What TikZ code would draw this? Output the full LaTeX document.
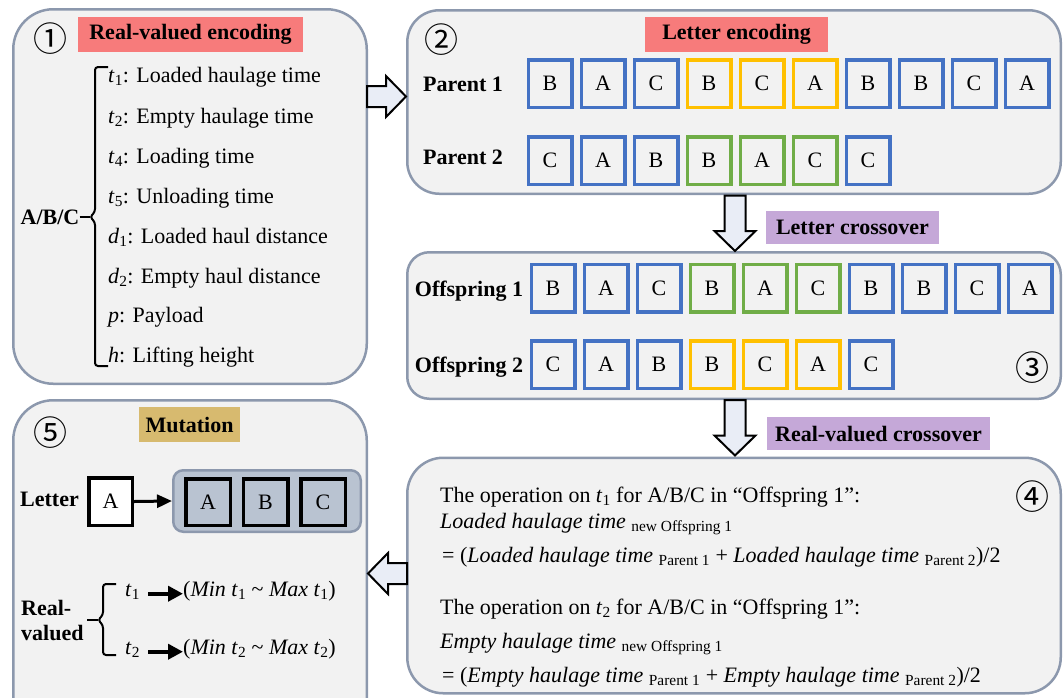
\documentclass[tikz,border=0pt]{standalone}
\usepackage{fontspec}
\setmainfont{Liberation Serif}
\newfontfamily\cjkfont{Noto Sans CJK SC}
\usetikzlibrary{arrows.meta,calc}
\definecolor{panelfill}{HTML}{F2F2F2}
\definecolor{panelline}{HTML}{8C98AD}
\definecolor{cblue}{HTML}{4472C4}
\definecolor{corange}{HTML}{FFC000}
\definecolor{cgreen}{HTML}{70AD47}
\definecolor{lred}{HTML}{F77B7B}
\definecolor{lpurple}{HTML}{C5A8D8}
\definecolor{ltan}{HTML}{D7BA6F}
\definecolor{arrowfill}{HTML}{E9EDF6}
\definecolor{groupfill}{HTML}{B9C3D1}
\newcommand\fsz[1]{\fontsize{#1}{#1}\selectfont}
\newcommand\sbs[1]{\textsubscript{#1}}
\tikzset{
  panel/.style={draw=panelline, fill=panelfill, line width=2.5pt, rounded corners=#1, inner sep=0pt},
  cell/.style={draw=#1, line width=3.5pt, minimum width=43.5pt, minimum height=47.5pt, inner sep=0pt, font=\fsz{22}},
  tag/.style={fill=#1, inner sep=0pt, font=\bfseries\fsz{22}},
  txt/.style={inner sep=0pt, font=\fsz{22}},
  btxt/.style={inner sep=0pt, font=\bfseries\fsz{22}},
  num/.style={inner sep=0pt, font=\cjkfont\fsz{34}},
  barrow/.style={draw=black, fill=arrowfill, line width=2pt, line join=miter},
  bracestyle/.style={draw=black, line width=2pt, rounded corners=3pt},
  blockarr/.pic={\draw[barrow] (0,-10.5) -- (#1-20,-10.5) -- (#1-20,-20.5) -- (#1,0) -- (#1-20,20.5) -- (#1-20,10.5) -- (0,10.5) -- cycle;},
  mutarrow/.style={draw=black, line width=4pt, -{Triangle[length=15pt,width=15pt]}},
  letarrow/.style={draw=black, line width=3pt, -{Triangle[length=15pt,width=13pt]}}
}
\begin{document}
\begin{tikzpicture}[x=1pt,y=-1pt]
\useasboundingbox (0,0) rectangle (1063,697);
\clip (0,0) rectangle (1063,697);
% panels
\node[panel=40pt, minimum width=353.5pt, minimum height=374.5pt] (p1) at (190,196.5) {};
\node[panel=32pt, minimum width=653.5pt, minimum height=183.5pt] (p2) at (734,102) {};
\node[panel=22pt, minimum width=653.5pt, minimum height=146.5pt] (p3) at (734,325.5) {};
\node[panel=36pt, minimum width=653.5pt, minimum height=235.5pt] (p4) at (734,575.5) {};
\node[panel=40pt, minimum width=353.5pt, minimum height=338.5pt] (p5) at (190,569.5) {};

% panel 1
\node[num] (n1) at (50.5,39) {①};
\node[tag=lred, minimum width=225pt, minimum height=35pt] (l1) at (190.5,34.5) {Real-valued encoding};
\node[btxt] (abc) at (50,217) {A/B/C};
\draw[bracestyle] (108,67) -- (95,67) -- (95,212) -- (90,217) -- (95,222) -- (95,366) -- (108,366);
\draw[line width=2pt] (abc.east) -- (90,217);
\node[txt, anchor=base west] (i1) at (108,82) {\textit{t}\sbs{1}: Loaded haulage time};
\node[txt, anchor=base west] (i2) at (108,123) {\textit{t}\sbs{2}: Empty haulage time};
\node[txt, anchor=base west] (i3) at (108,163) {\textit{t}\sbs{4}: Loading time};
\node[txt, anchor=base west] (i4) at (108,203) {\textit{t}\sbs{5}: Unloading time};
\node[txt, anchor=base west] (i5) at (108,243) {\textit{d}\sbs{1}: Loaded haul distance};
\node[txt, anchor=base west] (i6) at (108,283) {\textit{d}\sbs{2}: Empty haul distance};
\node[txt, anchor=base west] (i7) at (108,322) {\textit{p}: Payload};
\node[txt, anchor=base west] (i8) at (108,362) {\textit{h}: Lifting height};

% panel 2
\node[num] (n2) at (441,40) {②};
\node[tag=lred, minimum width=183pt, minimum height=35pt] (l2) at (736.5,34.5) {Letter encoding};
\node[btxt, anchor=base] (par1) at (463,91) {Parent 1};
\node[btxt, anchor=base] (par2) at (463,164) {Parent 2};
\foreach \l/\c [count=\i] in {B/cblue,A/cblue,C/cblue,B/corange,C/corange,A/corange,B/cblue,B/cblue,C/cblue,A/cblue}
  \node[cell=\c] (pa\i) at ({550+53*(\i-1)},83.5) {\l};
\foreach \l/\c [count=\i] in {C/cblue,A/cblue,B/cblue,B/cgreen,A/cgreen,C/cgreen,C/cblue}
  \node[cell=\c] (pb\i) at ({550+53*(\i-1)},160.5) {\l};

% panel 3
\node[tag=lpurple, minimum width=173pt, minimum height=33pt] (l3) at (852.5,227.5) {Letter crossover};
\node[btxt, anchor=base] (off1) at (469,296) {Offspring 1};
\node[btxt, anchor=base] (off2) at (469,372) {Offspring 2};
\foreach \l/\c [count=\i] in {B/cblue,A/cblue,C/cblue,B/cgreen,A/cgreen,C/cgreen,B/cblue,B/cblue,C/cblue,A/cblue}
  \node[cell=\c] (oa\i) at ({553+53*(\i-1)},288) {\l};
\foreach \l/\c [count=\i] in {C/cblue,A/cblue,B/cblue,B/corange,C/corange,A/corange,C/cblue}
  \node[cell=\c] (ob\i) at ({553+53*(\i-1)},364.5) {\l};
\node[num] (n3) at (1032,368) {③};

% panel 4
\node[tag=lpurple, minimum width=223pt, minimum height=33pt] (l4) at (878.5,433.5) {Real-valued crossover};
\node[num] (n4) at (1032,497) {④};
\node[txt, anchor=base west] (f1) at (440,502) {The operation on \textit{t}\sbs{1} for A/B/C in “Offspring 1”:};
\node[txt, anchor=base west] (f2) at (440,528) {\textit{Loaded haulage time} \sbs{new Offspring 1}};
\node[txt, anchor=base west] (f3) at (442,562) {= (\textit{Loaded haulage time} \sbs{Parent 1} + \textit{Loaded haulage time} \sbs{Parent 2})/2};
\node[txt, anchor=base west] (f4) at (440,614) {The operation on \textit{t}\sbs{2} for A/B/C in “Offspring 1”:};
\node[txt, anchor=base west] (f5) at (440,648) {\textit{Empty haulage time} \sbs{new Offspring 1}};
\node[txt, anchor=base west] (f6) at (442,682) {= (\textit{Empty haulage time} \sbs{Parent 1} + \textit{Empty haulage time} \sbs{Parent 2})/2};

% panel 5
\node[num] (n5) at (50.5,433) {⑤};
\node[tag=ltan, minimum width=101pt, minimum height=35pt] (l5) at (189.5,424.5) {Mutation};
\node[btxt] (let) at (49.5,499) {Letter};
\node[cell=black, fill=white] (ma) at (110.5,501.5) {A};
\node[draw=panelline, fill=groupfill, line width=2.5pt, rounded corners=10pt, minimum width=187.5pt, minimum height=61.5pt, inner sep=0pt] (grp) at (267,501) {};
\node[cell=black, fill=groupfill, minimum width=44.5pt, minimum height=46.5pt] (ga) at (208,502) {A};
\node[cell=black, fill=groupfill, minimum width=44.5pt, minimum height=46.5pt] (gb) at (265.5,502) {B};
\node[cell=black, fill=groupfill, minimum width=44.5pt, minimum height=46.5pt] (gc) at (323,502) {C};
\draw[letarrow] (ma.east) -- (grp.west);
\node[inner sep=0pt, font=\bfseries\fontsize{22}{25}\selectfont, align=left, anchor=west] (rv) at (21,620) {Real-\\valued};
\draw[bracestyle] (116,584) -- (103,584) -- (103,615) -- (98,620) -- (103,625) -- (103,655) -- (116,655);
\draw[line width=2pt] (87,620) -- (98,620);
\node[txt, anchor=base west] (mt1) at (125,596) {\textit{t}\sbs{1}};
\node[txt, anchor=base west] (mt2) at (125,654) {\textit{t}\sbs{2}};
\node[txt, anchor=base west] (mr1) at (183,596) {(\textit{Min t}\sbs{1} \textasciitilde{} \textit{Max t}\sbs{1})};
\node[txt, anchor=base west] (mr2) at (183,654) {(\textit{Min t}\sbs{2} \textasciitilde{} \textit{Max t}\sbs{2})};
\draw[mutarrow] ([xshift=8pt]mt1.mid east) -- (mr1.mid west);
\draw[mutarrow] ([xshift=8pt]mt2.mid east) -- (mr2.mid west);

% block arrows
\pic at (367,96.5) {blockarr=39};
\pic[rotate=-90] at (735,195.5) {blockarr=55.5};
\pic[rotate=-90] at (735,400) {blockarr=55.5};
\pic[rotate=180] at (407,573.5) {blockarr=39};
\end{tikzpicture}
\end{document}
